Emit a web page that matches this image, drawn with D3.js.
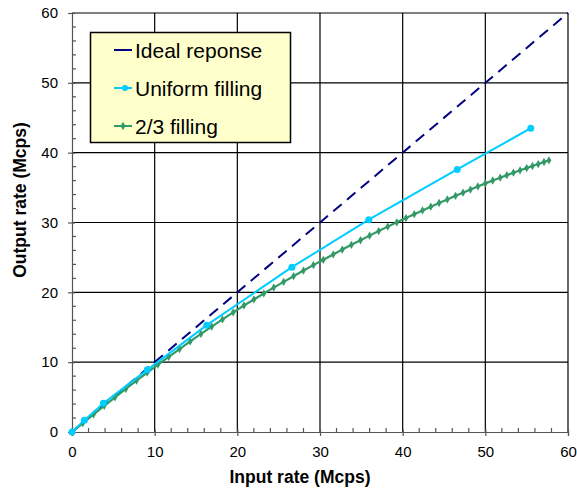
<!DOCTYPE html>
<html>
<head>
<meta charset="utf-8">
<script src="https://cdn.jsdelivr.net/npm/d3@7"></script>
<style>
  body { margin: 0; background: #fff; }
  text { font-family: "Liberation Sans", Arial, sans-serif; fill: #000; }
</style>
</head>
<body>
<svg id="chart" width="577" height="488"></svg>
<script>
// series data
const idealX = [0, 60]
const idealY = [0, 60]

const uniformX = [0, 1.5, 3.8, 9.1, 16.3, 26.6, 35.9, 46.6, 55.5]
const uniformY = [0, 1.7, 4.1, 8.9, 15.3, 23.6, 30.4, 37.6, 43.5]

const fillX = [0, 1.3, 2.6, 3.9, 5.2, 6.5, 7.8, 9.1, 10.4, 11.7, 13.0, 14.3, 15.6, 16.9, 18.2, 19.5,
  20.8, 22.0, 23.2, 24.4, 25.6, 26.8, 28.0, 29.2, 30.4, 31.6, 32.7, 33.8, 34.9, 36.0, 37.1, 38.2,
  39.3, 40.4, 41.4, 42.4, 43.4, 44.4, 45.4, 46.4, 47.3, 48.2, 49.1, 50.0, 50.9, 51.8, 52.6, 53.4,
  54.2, 55.0, 55.7, 56.4, 57.1, 57.7]
const fillY = [0, 1.27, 2.52, 3.75, 4.97, 6.17, 7.35, 8.51, 9.65, 10.77, 11.88, 12.97, 14.04, 15.09, 16.12, 17.14,
  18.12, 18.98, 19.84, 20.68, 21.50, 22.31, 23.12, 23.90, 24.66, 25.43, 26.12, 26.80, 27.46, 28.12, 28.77, 29.41,
  30.02, 30.63, 31.19, 31.73, 32.27, 32.79, 33.31, 33.82, 34.27, 34.72, 35.17, 35.60, 36.01, 36.42, 36.78, 37.13,
  37.47, 37.79, 38.09, 38.37, 38.66, 38.90]

const xTicks = [0, 10, 20, 30, 40, 50, 60]
const yTicks = [0, 10, 20, 30, 40, 50, 60]
const legendLabels = ['Ideal reponse', 'Uniform filling', '2/3 filling']

const zip = (xs, ys) => xs.map((x, i) => ({ x: x, y: ys[i] }))

// layout
const plotLeft = 72
const plotRight = 568
const plotTop = 13
const plotBottom = 432

const svg = d3.select('#chart')
const x = d3.scaleLinear().domain([0, 60]).range([plotLeft, plotRight])
const y = d3.scaleLinear().domain([0, 60]).range([plotBottom, plotTop])

// grid
const grid = svg.append('g').attr('stroke', '#000').attr('stroke-width', 1.2)
grid.selectAll('.gx').data(xTicks.slice(1)).join('line')
  .attr('x1', d => x(d)).attr('x2', d => x(d))
  .attr('y1', plotBottom).attr('y2', plotTop)
grid.selectAll('.gy').data(yTicks.slice(1)).join('line')
  .attr('x1', plotLeft).attr('x2', plotRight)
  .attr('y1', d => y(d)).attr('y2', d => y(d))

// axes
const minor = d3.range(0, 61, 2).filter(d => d % 10)
const xAxis = svg.append('g').attr('transform', `translate(0,${plotBottom})`)
  .call(d3.axisBottom(x).tickValues(xTicks).tickSize(4).tickPadding(8))
xAxis.selectAll('.tick line').attr('y1', -3)
const yAxis = svg.append('g').attr('transform', `translate(${plotLeft},0)`)
  .call(d3.axisLeft(y).tickValues(yTicks).tickSize(4).tickPadding(10))
yAxis.selectAll('.tick line').attr('x1', 3)
;[xAxis, yAxis].forEach(a => {
  a.select('.domain').attr('stroke', '#555').attr('stroke-width', 1.2)
  a.selectAll('.tick line').attr('stroke', '#555').attr('stroke-width', 1.2)
  a.selectAll('text').attr('font-size', 15).attr('font-family', '"Liberation Sans", Arial, sans-serif').attr('fill', '#000')
})
xAxis.selectAll('text').attr('dy', '0.85em')
svg.append('g').selectAll('line').data(minor).join('line')
  .attr('x1', d => x(d)).attr('x2', d => x(d))
  .attr('y1', plotBottom).attr('y2', plotBottom - 4)
  .attr('stroke', '#555').attr('stroke-width', 1.2)
svg.append('g').selectAll('line').data(minor).join('line')
  .attr('x1', plotLeft).attr('x2', plotLeft + 4)
  .attr('y1', d => y(d)).attr('y2', d => y(d))
  .attr('stroke', '#555').attr('stroke-width', 1.2)

// axis titles
svg.append('text').attr('x', 300).attr('y', 483)
  .attr('text-anchor', 'middle').attr('font-weight', 'bold').attr('font-size', 17.5)
  .text('Input rate (Mcps)')
svg.append('text').attr('transform', 'translate(26,200) rotate(-90)')
  .attr('text-anchor', 'middle').attr('font-weight', 'bold').attr('font-size', 17.5)
  .text('Output rate (Mcps)')

// series
const line = d3.line().x(d => x(d.x)).y(d => y(d.y))
svg.append('path').datum(zip(idealX, idealY))
  .attr('d', line).attr('fill', 'none')
  .attr('stroke', '#000080').attr('stroke-width', 2).attr('stroke-dasharray', '11,7')

const fillData = zip(fillX, fillY)
svg.append('path').datum(fillData)
  .attr('d', line).attr('fill', 'none')
  .attr('stroke', '#339966').attr('stroke-width', 2.2)
const diamond = d3.symbol().type(d3.symbolDiamond).size(20)
svg.append('g').selectAll('path').data(fillData).join('path')
  .attr('transform', d => `translate(${x(d.x)},${y(d.y)})`)
  .attr('d', diamond).attr('fill', '#339966')

const uniformData = zip(uniformX, uniformY)
svg.append('path').datum(uniformData)
  .attr('d', line).attr('fill', 'none')
  .attr('stroke', '#00CCFF').attr('stroke-width', 2)
svg.append('g').selectAll('circle').data(uniformData).join('circle')
  .attr('cx', d => x(d.x)).attr('cy', d => y(d.y)).attr('r', 3.5)
  .attr('fill', '#00CCFF')

// legend
const legend = svg.append('g')
legend.append('rect').attr('x', 90.5).attr('y', 32.5).attr('width', 200).attr('height', 110)
  .attr('fill', '#FFFFCC').attr('stroke', '#000').attr('stroke-width', 1.5)
const colors = ['#000080', '#00CCFF', '#339966']
legendLabels.forEach((label, i) => {
  const ly = 50 + i * 38
  const g = legend.append('g')
  g.append('line').attr('x1', 114).attr('x2', 132).attr('y1', ly).attr('y2', ly)
    .attr('stroke', colors[i]).attr('stroke-width', 2)
  if (i === 1) g.append('circle').attr('cx', 125).attr('cy', ly).attr('r', 3).attr('fill', colors[i])
  if (i === 2) g.append('path').attr('transform', `translate(123,${ly})`).attr('d', diamond).attr('fill', colors[i])
  g.append('text').attr('x', 135).attr('y', ly + 7.5).attr('font-size', 21).text(label)
})
</script>
</body>
</html>
